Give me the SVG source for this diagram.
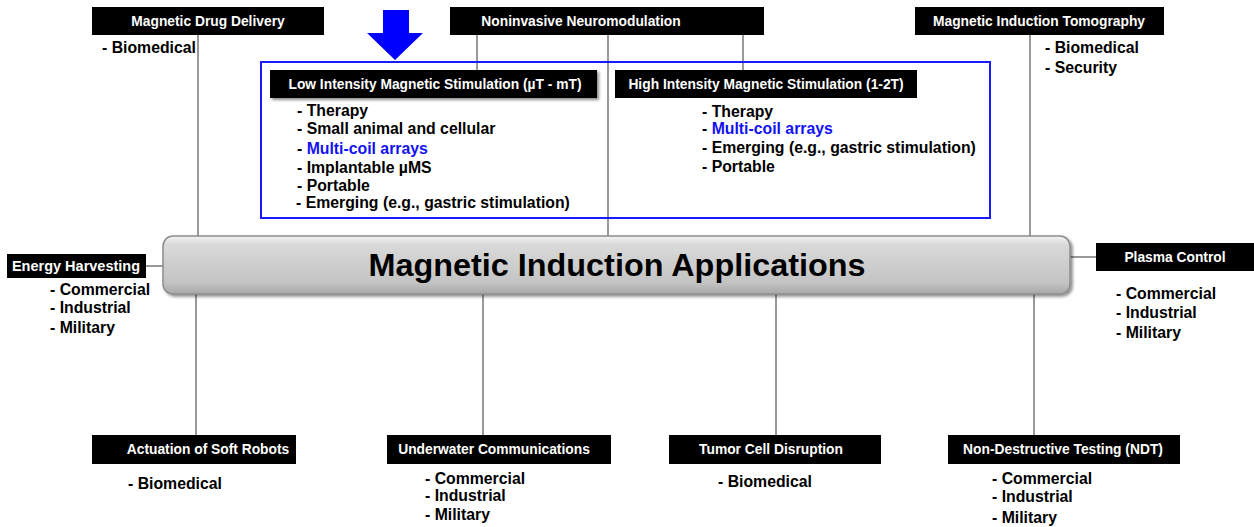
<svg xmlns="http://www.w3.org/2000/svg" width="1254" height="527" viewBox="0 0 1254 527">
<style>
.box{fill:#000;}
.lbl{font-family:"Liberation Sans",Arial,sans-serif;font-weight:bold;font-size:13.8px;fill:#fff;text-anchor:middle;}
.item{font-family:"Liberation Sans",Arial,sans-serif;font-weight:bold;font-size:15.8px;fill:#000;}
.blue{fill:#1212f5;}
.conn{stroke:#555;stroke-width:1.2;fill:none;}
.title{font-family:"Liberation Sans",Arial,sans-serif;font-weight:bold;font-size:31px;fill:#000;text-anchor:middle;}
</style>
<defs>
<linearGradient id="bar" x1="0" y1="0" x2="0" y2="1">
<stop offset="0" stop-color="#f2f2f2"/>
<stop offset="0.15" stop-color="#d9d9d9"/>
<stop offset="0.8" stop-color="#c4c4c4"/>
<stop offset="1" stop-color="#a8a8a8"/>
</linearGradient>
<filter id="sh" x="-5%" y="-20%" width="110%" height="150%">
<feDropShadow dx="2" dy="2" stdDeviation="1.5" flood-color="#000" flood-opacity="0.45"/>
</filter>
</defs>
<rect width="1254" height="527" fill="#fff"/>
<g id="connectors">
<line class="conn" x1="198" y1="35" x2="198" y2="236"/>
<line class="conn" x1="477" y1="35" x2="477" y2="70"/>
<line class="conn" x1="743" y1="35" x2="743" y2="70"/>
<line class="conn" x1="608" y1="35" x2="608" y2="236"/>
<line class="conn" x1="1030" y1="35" x2="1030" y2="236"/>
<line class="conn" x1="146" y1="266" x2="163" y2="266"/>
<line class="conn" x1="1070" y1="257" x2="1096" y2="257"/>
<line class="conn" x1="196" y1="294" x2="196" y2="435"/>
<line class="conn" x1="483" y1="294" x2="483" y2="435"/>
<line class="conn" x1="776" y1="294" x2="776" y2="435"/>
<line class="conn" x1="1034" y1="294" x2="1034" y2="435"/>
</g>
<g id="arrow">
<polygon points="383,10 409,10 409,33 423,33 395,60 367,33 383,33" fill="#0000ff"/>
</g>
<g id="neuro-group">
<rect x="261" y="62" width="729" height="156" fill="none" stroke="#1a1aff" stroke-width="2"/>
</g>
<g id="drug-delivery">
<rect class="box" x="92" y="7" width="232" height="28"/>
<text class="lbl" x="208" y="26">Magnetic Drug Delivery</text>
<text class="item" x="102" y="53">- Biomedical</text>
</g>
<g id="neuromodulation">
<rect class="box" x="450" y="7" width="314" height="28"/>
<text class="lbl" x="581" y="26">Noninvasive Neuromodulation</text>
</g>
<g id="tomography">
<rect class="box" x="915" y="7" width="249" height="28"/>
<text class="lbl" x="1039" y="26">Magnetic Induction Tomography</text>
<text class="item" x="1045" y="53">- Biomedical</text>
<text class="item" x="1045" y="73">- Security</text>
</g>
<g id="low-intensity">
<rect class="box" x="270" y="70" width="327" height="28" filter="url(#sh)"/>
<text class="lbl" x="435" y="89">Low Intensity Magnetic Stimulation (µT - mT)</text>
<text class="item" x="297" y="116">- Therapy</text>
<text class="item" x="297" y="134">- Small animal and cellular</text>
<text class="item" x="297" y="154">- <tspan class="blue">Multi-coil arrays</tspan></text>
<text class="item" x="297" y="173">- Implantable µMS</text>
<text class="item" x="297" y="191">- Portable</text>
<text class="item" x="296" y="208">- Emerging (e.g., gastric stimulation)</text>
</g>
<g id="high-intensity">
<rect class="box" x="615" y="70" width="302" height="28"/>
<text class="lbl" x="766" y="89">High Intensity Magnetic Stimulation (1-2T)</text>
<text class="item" x="702" y="117">- Therapy</text>
<text class="item" x="702" y="134">- <tspan class="blue">Multi-coil arrays</tspan></text>
<text class="item" x="702" y="153">- Emerging (e.g., gastric stimulation)</text>
<text class="item" x="702" y="172">- Portable</text>
</g>
<g id="central">
<rect x="163" y="236" width="907" height="58" rx="10" fill="url(#bar)" stroke="#8c8c8c" stroke-width="1.5" filter="url(#sh)"/>
<text class="title" x="617" y="276" textLength="497" lengthAdjust="spacingAndGlyphs">Magnetic Induction Applications</text>
</g>
<g id="energy-harvesting">
<rect class="box" x="7" y="254" width="139" height="24"/>
<text class="lbl" x="76" y="271" style="font-size:14.5px">Energy Harvesting</text>
<text class="item" x="50" y="295">- Commercial</text>
<text class="item" x="50" y="313">- Industrial</text>
<text class="item" x="50" y="333">- Military</text>
</g>
<g id="plasma-control">
<rect class="box" x="1096" y="243" width="158" height="28"/>
<text class="lbl" x="1175" y="262">Plasma Control</text>
<text class="item" x="1116" y="299">- Commercial</text>
<text class="item" x="1116" y="318">- Industrial</text>
<text class="item" x="1116" y="338">- Military</text>
</g>
<g id="soft-robots">
<rect class="box" x="92" y="435" width="204" height="29"/>
<text class="lbl" x="208" y="454">Actuation of Soft Robots</text>
<text class="item" x="128" y="489">- Biomedical</text>
</g>
<g id="underwater">
<rect class="box" x="387" y="435" width="224" height="29"/>
<text class="lbl" x="494" y="454">Underwater Communications</text>
<text class="item" x="425" y="484">- Commercial</text>
<text class="item" x="425" y="501">- Industrial</text>
<text class="item" x="425" y="520">- Military</text>
</g>
<g id="tumor">
<rect class="box" x="669" y="435" width="212" height="29"/>
<text class="lbl" x="771" y="454">Tumor Cell Disruption</text>
<text class="item" x="718" y="487">- Biomedical</text>
</g>
<g id="ndt">
<rect class="box" x="948" y="435" width="232" height="29"/>
<text class="lbl" x="1063" y="454">Non-Destructive Testing (NDT)</text>
<text class="item" x="992" y="484">- Commercial</text>
<text class="item" x="992" y="502">- Industrial</text>
<text class="item" x="992" y="523">- Military</text>
</g>
</svg>
